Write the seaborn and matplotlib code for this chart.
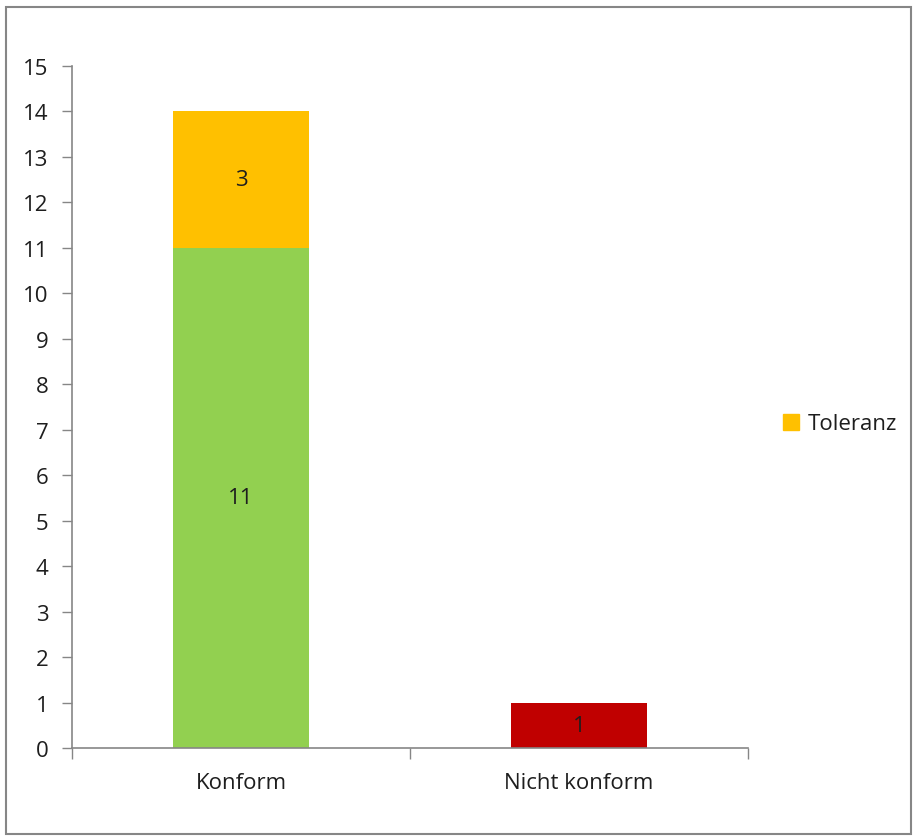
import numpy as np
import seaborn as sns
import matplotlib.pyplot as plt
from matplotlib.patches import Rectangle, Patch

# values
categories = ["Konform", "Nicht konform"]
konform_ok = [11, 0]
toleranz = [3, 0]
nicht_konform = [0, 1]
y_ticks = list(range(0, 16))

GREEN = "#92D050"
ORANGE = "#FFC000"
RED = "#C00000"
GRAY = "#868686"
TXT = "#1e1e1e"
FS = 16

sns.set_theme(style="white")
plt.rcParams['font.family'] = ['Open Sans', 'DejaVu Sans']

fig = plt.figure(figsize=(9.14, 8.37), dpi=100)
ax = fig.add_axes([72/914, 1-749/837, 676/914, 682/837])

ok = np.array(konform_ok)
tol = np.array(toleranz)
nk = np.array(nicht_konform)

# stacked look: draw the tallest layer first, then paint the lower parts over it
sns.barplot(x=categories, y=ok + nk + tol, color=ORANGE, width=0.4, saturation=1, linewidth=0, ax=ax)
sns.barplot(x=categories, y=ok + nk, color=RED, width=0.4, saturation=1, linewidth=0, ax=ax)
sns.barplot(x=categories, y=ok, color=GREEN, width=0.4, saturation=1, linewidth=0, ax=ax)

# segment labels
for i in range(len(categories)):
    base = 0
    for seg in (ok, nk, tol):
        if seg[i] > 0:
            ax.text(i, base + seg[i]/2, str(seg[i]), ha="center", va="center", fontsize=FS, color=TXT)
            base += seg[i]

ax.set_xlim(-0.5, 1.5)
ax.set_ylim(0, 15)
ax.set_yticks(y_ticks)
ax.set_xticks([-0.5, 0.5, 1.5])
ax.set_xticklabels([])
ax.set_xticks(range(len(categories)), minor=True)
ax.set_xticklabels(categories, minor=True)
ax.tick_params(axis="x", which="major", length=8, width=1, color=GRAY, direction="out", bottom=True)
ax.tick_params(axis="x", which="minor", length=0, pad=17, labelsize=FS, labelcolor=TXT)
ax.tick_params(axis="y", length=7, width=1, color=GRAY, direction="out", left=True, pad=10, labelsize=FS, labelcolor=TXT)
ax.set_xlabel("")
ax.set_ylabel("")

for s in ["top", "right"]:
    ax.spines[s].set_visible(False)
for s in ["left", "bottom"]:
    ax.spines[s].set_color(GRAY)
    ax.spines[s].set_linewidth(1.2)

# legend only shows Toleranz
handle = Patch(facecolor=ORANGE, edgecolor=ORANGE)
fig.legend([handle], ["Toleranz"], loc="center left", bbox_to_anchor=(763/914, 1-425/837),
           frameon=False, fontsize=FS, handlelength=0.7, handleheight=0.7, handletextpad=0.4,
           labelcolor=TXT)

# outer chart border
fig.patches.append(Rectangle((6/914, 2/837), 905/914, 827/837, transform=fig.transFigure,
                             fill=False, edgecolor=GRAY, linewidth=1.5))

fig.savefig("out.png", dpi=100)
